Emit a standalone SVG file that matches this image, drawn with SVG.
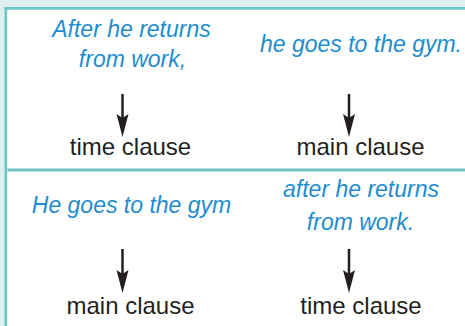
<svg xmlns="http://www.w3.org/2000/svg" width="465" height="326" viewBox="0 0 465 326">
<defs>
<style>
.blue{font-family:"Liberation Sans",Arial,sans-serif;font-style:italic;font-size:23px;fill:#1d8dcf;text-anchor:middle}
.blk{font-family:"Liberation Sans",Arial,sans-serif;font-size:24px;fill:#231f20;text-anchor:middle}
.shaft{stroke:#231f20;stroke-width:2.5;fill:none}
.head{fill:#231f20}
.border{fill:#6ec6ca}
</style>
</defs>
<rect x="0" y="0" width="465" height="326" fill="#deeff0"/>
<rect x="7" y="9.5" width="458" height="316.5" fill="#ffffff"/>
<rect class="border" x="4.5" y="7" width="460.5" height="2.7"/>
<rect class="border" x="4.5" y="7" width="2.7" height="319"/>
<rect class="border" x="7.5" y="168.5" width="457.5" height="3"/>
<g id="n1">
<text class="blue" x="131.5" y="37">After he returns</text>
<text class="blue" x="132.5" y="67">from work,</text>
</g>
<g id="n2">
<text class="blk" x="130.5" y="155">time clause</text>
</g>
<g id="n3">
<text class="blue" x="361" y="52">he goes to the gym.</text>
</g>
<g id="n4">
<text class="blk" x="360.5" y="155">main clause</text>
</g>
<g id="n5">
<text class="blue" x="131.5" y="213">He goes to the gym</text>
</g>
<g id="n6">
<text class="blk" x="130.5" y="314">main clause</text>
</g>
<g id="n7">
<text class="blue" x="361" y="197">after he returns</text>
<text class="blue" x="360.5" y="230">from work.</text>
</g>
<g id="n8">
<text class="blk" x="361" y="314">time clause</text>
</g>
<g id="connectors">
<line class="shaft" x1="122.5" y1="94" x2="122.5" y2="118"/>
<path class="head" d="M122.5,137 L116.5,114 L122.5,118 L128.5,114 Z"/>
<line class="shaft" x1="349" y1="94" x2="349" y2="118"/>
<path class="head" d="M349,137 L343,114 L349,118 L355,114 Z"/>
<line class="shaft" x1="122.5" y1="249" x2="122.5" y2="274"/>
<path class="head" d="M122.5,293 L116.5,270 L122.5,274 L128.5,270 Z"/>
<line class="shaft" x1="349" y1="249" x2="349" y2="274"/>
<path class="head" d="M349,293 L343,270 L349,274 L355,270 Z"/>
</g>
</svg>
